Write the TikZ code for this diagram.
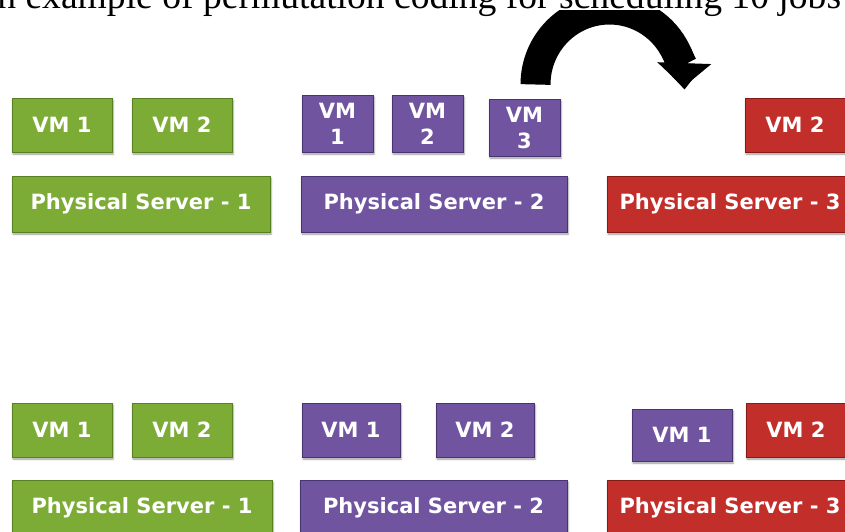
\documentclass[tikz,border=0pt]{standalone}
\usepackage{fontspec}
\setmainfont{Liberation Serif}
\newfontfamily\boxfont{DejaVu Sans}
\usepackage{tikz}
\usetikzlibrary{positioning,arrows.meta,shadows.blur}
\definecolor{greenfill}{RGB}{124,172,54}
\definecolor{greenline}{RGB}{88,128,34}
\definecolor{purplefill}{RGB}{113,84,160}
\definecolor{purpleline}{RGB}{72,52,112}
\definecolor{redfill}{RGB}{194,46,42}
\definecolor{redline}{RGB}{135,26,22}
\tikzset{
block/.style={rectangle, draw, line width=1pt, inner sep=0pt, text=white, align=center, font=\boxfont\bfseries\fontsize{21}{26}\selectfont, blur shadow={shadow xshift=1pt, shadow yshift=-2pt, shadow blur steps=5, shadow blur radius=2pt}},
green_block/.style={block, fill=greenfill, draw=greenline},
purple_block/.style={block, fill=purplefill, draw=purpleline},
red_block/.style={block, fill=redfill, draw=redline},
vm/.style={minimum width=100pt, minimum height=54pt},
vm_narrow/.style={minimum width=71pt, minimum height=57pt},
server/.style={minimum height=56pt},
caption_text/.style={inner sep=0pt, font=\fontsize{37.6}{40}\selectfont},
turn_arrow/.style={line width=30pt, -{Triangle[width=54pt,length=24pt,line width=0pt]}}
}

\begin{document}
\begin{tikzpicture}[x=1pt,y=-1pt]
    \useasboundingbox (0,0) rectangle (845,531);
    \clip (0,0) rectangle (845,531);
    \node[caption_text, anchor=base west] (caption) at (-30,8) {An example of permutation coding for scheduling 10 jobs};

    \node[green_block, server, minimum width=258pt] (ps1_t) at (141,204) {Physical Server - 1};
    \node[purple_block, server, minimum width=266pt] (ps2_t) at (434,204) {Physical Server - 2};
    \node[red_block, server, minimum width=246pt] (ps3_t) at (730,204) {Physical Server - 3};
    \node[green_block, vm] (vm1_1t) [above right=23pt and 0pt of ps1_t.north west] {VM 1};
    \node[green_block, vm] (vm1_2t) [right=19pt of vm1_1t] {VM 2};
    \node[purple_block, vm_narrow] (vm2_1t) [above right=23pt and 1pt of ps2_t.north west] {VM\\1};
    \node[purple_block, vm_narrow] (vm2_2t) [right=18pt of vm2_1t] {VM\\2};
    \node[purple_block, vm_narrow] (vm2_3t) [above left=19pt and 7pt of ps2_t.north east] {VM\\3};
    \node[red_block, vm] (vm3_2t) [above left=23pt and 8pt of ps3_t.north east] {VM 2};

    \node[green_block, server, minimum width=260pt] (ps1_b) at (142,508) {Physical Server - 1};
    \node[purple_block, server, minimum width=267pt] (ps2_b) at (433.5,508) {Physical Server - 2};
    \node[red_block, server, minimum width=246pt] (ps3_b) at (730,508) {Physical Server - 3};
    \node[green_block, vm] (vm1_1b) [above right=22pt and 0pt of ps1_b.north west] {VM 1};
    \node[green_block, vm] (vm1_2b) [right=19pt of vm1_1b] {VM 2};
    \node[purple_block, vm, minimum width=98pt] (vm2_1b) [above right=22pt and 2pt of ps2_b.north west] {VM 1};
    \node[purple_block, vm, minimum width=98pt] (vm2_2b) [right=35pt of vm2_1b] {VM 2};
    \node[purple_block, vm, minimum height=52pt] (vm3_1b) [above right=18pt and 25pt of ps3_b.north west] {VM 1};
    \node[red_block, vm] (vm3_2b) [above left=22pt and 7pt of ps3_b.north east] {VM 2};

    \coordinate (turn_start) at ([xshift=11pt,yshift=14pt]vm2_3t.north);
    \begin{scope}
        \clip (0,10) rectangle (845,531);
        \draw[turn_arrow] (turn_start) arc[start angle=180, end angle=362, x radius=74, y radius=75];
    \end{scope}
\end{tikzpicture}
\end{document}
